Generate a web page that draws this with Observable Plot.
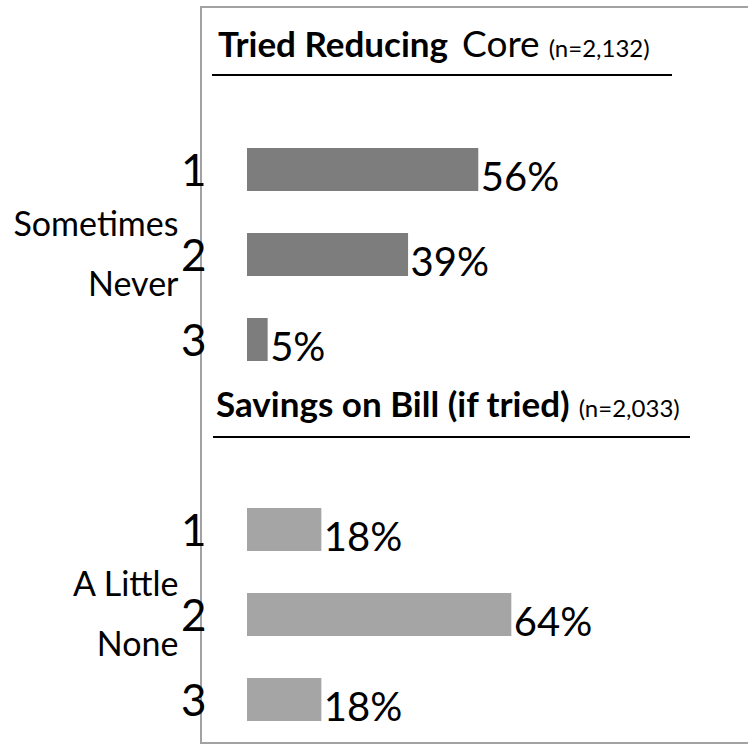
<!DOCTYPE html>
<html>
<head>
<meta charset="utf-8">
<script src="https://cdn.jsdelivr.net/npm/d3@7"></script>
<script src="https://cdn.jsdelivr.net/npm/@observablehq/plot@0.6"></script>
<style>
  html, body { margin: 0; padding: 0; background: #fff; overflow: hidden; }
  #wrap { position: relative; width: 748px; height: 744px; overflow: hidden; font-family: Lato, sans-serif; color: #000; }
  #frame { position: absolute; left: 200px; top: 6px; width: 900px; height: 738px; box-sizing: border-box;
           border: 2.5px solid #a2a2a2; }
  .title { position: absolute; white-space: nowrap; line-height: 1; font-size: 35px; }
  .title b { font-weight: 700; }
  .title .sub { font-weight: 400; font-size: 37px; margin-left: 14px; }
  .title .n { font-size: 24px; font-weight: 400; }
  .rule { position: absolute; height: 2px; background: #000; }
  #chart { position: absolute; left: 0; top: 0; }
</style>
</head>
<body>
<div id="wrap">
  <div id="frame"></div>
  <div id="chart"></div>
</div>
<script>
// ---- data ----
const panels = ["Tried Reducing", "Savings on Bill (if tried)"];
const panelSubtitles = ["Core", ""];
const sampleSizes = ["(n=2,132)", "(n=2,033)"];
const ranks = ["1", "2", "3"];
const triedValues = [56, 39, 5];
const savingsValues = [18, 64, 18];
const upperLabels = ["Sometimes", "A Little"];
const lowerLabels = ["Never", "None"];
const panelColors = ["#7d7d7d", "#a5a5a5"];

const seriesValues = [triedValues, savingsValues];
const rows = panels.flatMap((p, i) => ranks.map((r, j) => ({panel: p, rank: r, value: seriesValues[i][j]})));
const catRows = panels.map((p, i) => ({panel: p, rank: ranks[1], upper: upperLabels[i], lower: lowerLabels[i]}));

const chart = Plot.plot({
  width: 748,
  height: 744,
  marginLeft: 201,
  marginRight: 88,
  marginTop: 127,
  marginBottom: 1,
  insetLeft: 46,
  style: {fontFamily: "Lato, sans-serif", background: "transparent", color: "#000"},
  x: {domain: [0, 100], axis: null},
  y: {domain: ranks, paddingInner: 0.49, paddingOuter: 0.25, label: null},
  fy: {domain: panels, axis: null, paddingInner: 0.289, paddingOuter: 0, label: null},
  color: {domain: panels, range: panelColors},
  marks: [
    Plot.barX(rows, {x: "value", y: "rank", fy: "panel", fill: "panel"}),
    Plot.text(rows, {x: "value", y: "rank", fy: "panel", text: d => d.value + "%",
      textAnchor: "start", dx: 2, dy: 8, fontSize: 40, fill: "#000"}),
    Plot.axisY({tickSize: 0, tickPadding: -5, fontSize: 44, dy: 2, color: "#000", label: null}),
    Plot.text(catRows, {y: "rank", fy: "panel", text: "upper", frameAnchor: "left",
      textAnchor: "end", dx: -23, dy: -30, fontSize: 34, fill: "#000"}),
    Plot.text(catRows, {y: "rank", fy: "panel", text: "lower", frameAnchor: "left",
      textAnchor: "end", dx: -23, dy: 30, fontSize: 34, fill: "#000"})
  ]
});
document.getElementById("chart").appendChild(chart);

// ---- panel titles (HTML annotations) ----
const wrap = document.getElementById("wrap");
const titleLayout = [
  {left: 218, top: 24, ruleLeft: 212, ruleTop: 74, ruleWidth: 460},
  {left: 216, top: 386, ruleLeft: 213, ruleTop: 436, ruleWidth: 477}
];
panels.forEach((p, i) => {
  const L = titleLayout[i];
  const t = document.createElement("div");
  t.className = "title";
  t.style.left = L.left + "px";
  t.style.top = L.top + "px";
  const sub = panelSubtitles[i] ? `<span class="sub">${panelSubtitles[i]}</span>` : "";
  t.innerHTML = `<b>${p}</b>${sub} <span class="n">${sampleSizes[i]}</span>`;
  wrap.appendChild(t);
  const r = document.createElement("div");
  r.className = "rule";
  r.style.left = L.ruleLeft + "px";
  r.style.top = L.ruleTop + "px";
  r.style.width = L.ruleWidth + "px";
  wrap.appendChild(r);
});
</script>
</body>
</html>
